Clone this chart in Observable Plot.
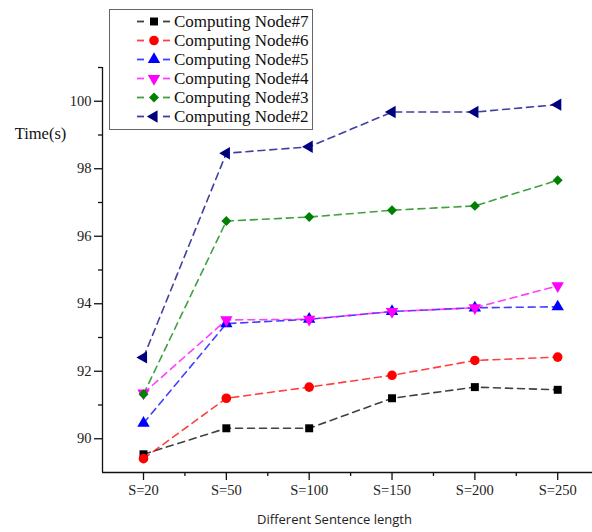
<!DOCTYPE html>
<html><head><meta charset="utf-8">
<script src="https://cdn.jsdelivr.net/npm/d3@7"></script>
<script src="https://cdn.jsdelivr.net/npm/@observablehq/plot@0.6"></script>
<style>
body{margin:0;background:#fff;}
#wrap{position:relative;width:592px;height:532px;}
#wrap svg text{font-family:"Liberation Serif","Times New Roman",serif;}
#wrap svg text.xtitle{font-family:"Open Sans",sans-serif;}
#legend{position:absolute;left:109px;top:9px;width:204px;height:121px;border:1px solid #666;background:#fff;box-sizing:border-box;font-family:"Liberation Serif","Times New Roman",serif;font-size:17px;color:#111;padding-top:2px;}
.row{display:flex;align-items:center;height:19px;white-space:nowrap;}
.row svg{flex:none;}
</style></head><body><div id="wrap"></div>
<script>
const categories = ["S=20", "S=50", "S=100", "S=150", "S=200", "S=250"];
const seriesNames = ["Computing Node#7", "Computing Node#6", "Computing Node#5", "Computing Node#4", "Computing Node#3", "Computing Node#2"];
const node7 = [89.54, 90.31, 90.31, 91.20, 91.53, 91.45];
const node6 = [89.41, 91.20, 91.53, 91.88, 92.32, 92.42];
const node5 = [90.46, 93.41, 93.54, 93.77, 93.88, 93.91];
const node4 = [91.35, 93.52, 93.54, 93.77, 93.88, 94.53];
const node3 = [91.32, 96.45, 96.57, 96.77, 96.90, 97.66];
const node2 = [92.41, 98.46, 98.65, 99.68, 99.68, 99.90];
const seriesValues = [node7, node6, node5, node4, node3, node2];
const colors = ["#000000", "#ff0000", "#0000ff", "#ff00ff", "#008000", "#000080"];
const yMajorTicks = [90, 92, 94, 96, 98, 100];
const yMinorTicks = [91, 93, 95, 97, 99, 101];
const xMajorTicks = [0, 1, 2, 3, 4, 5];
const xMinorTicks = [0.5, 1.5, 2.5, 3.5, 4.5];
const yLabel = "Time(s)";
const xLabel = "Different Sentence length";

const serif = "'Liberation Serif', 'Times New Roman', serif";
const sqrt3 = Math.sqrt(3);
const triDown = {draw(ctx, size) {
  const y = -Math.sqrt(size / (sqrt3 * 3));
  ctx.moveTo(0, -y * 2); ctx.lineTo(-sqrt3 * y, y); ctx.lineTo(sqrt3 * y, y); ctx.closePath();
}};
const triLeft = {draw(ctx, size) {
  const y = -Math.sqrt(size / (sqrt3 * 3));
  ctx.moveTo(y * 2, 0); ctx.lineTo(-y, -sqrt3 * y); ctx.lineTo(-y, sqrt3 * y); ctx.closePath();
}};
const symbols = [d3.symbolSquare, d3.symbolCircle, d3.symbolTriangle, triDown, d3.symbolDiamond2, triLeft];
const radii = [4.5, 4.8, 4.6, 4.6, 4.5, 4.6];

const rows = [];
seriesValues.forEach((vals, s) => vals.forEach((v, i) => rows.push({s, series: seriesNames[s], i, cat: categories[i], value: v})));

const xDomain = [-0.495, 5.42];
const yDomain = [89, 101];

const marks = [];
seriesNames.forEach((name, s) => {
  const d = rows.filter(r => r.s === s);
  marks.push(Plot.line(d, {x: "i", y: "value", stroke: colors[s], strokeWidth: 1.6, strokeDasharray: "7,5", strokeOpacity: 0.75}));
  marks.push(Plot.dot(d, {x: "i", y: "value", symbol: symbols[s], r: radii[s], fill: colors[s], stroke: "none"}));
});

const chart = Plot.plot({
  width: 592, height: 532,
  marginLeft: 102, marginRight: 0, marginTop: 67, marginBottom: 60,
  style: {fontFamily: serif, fontSize: "14.5px", color: "#222", background: "#fff"},
  x: {domain: xDomain},
  y: {domain: yDomain},
  marks: [
    ...marks,
    Plot.ruleY([yDomain[0]], {stroke: "#111", strokeWidth: 1.3}),
    Plot.ruleX([xDomain[0]], {stroke: "#111", strokeWidth: 1.3}),
    Plot.axisX(xMajorTicks, {tickSize: 8, tickPadding: 4, tickFormat: i => categories[i], label: null, strokeWidth: 1.3, stroke: "#111", fontFamily: serif, fontSize: 14.5}),
    Plot.axisX(xMinorTicks, {tickSize: 4, tickFormat: () => "", label: null, strokeWidth: 1.3, stroke: "#111"}),
    Plot.axisY(yMajorTicks, {tickSize: 8, tickPadding: 3, label: null, strokeWidth: 1.3, stroke: "#111", fontFamily: serif, fontSize: 14.5}),
    Plot.axisY(yMinorTicks, {tickSize: 4, tickFormat: () => "", label: null, strokeWidth: 1.3, stroke: "#111"}),
    Plot.text([yLabel], {frameAnchor: "top-left", dx: -62, dy: 66, textAnchor: "middle", lineAnchor: "middle", fontSize: 16.5, fontFamily: serif, fill: "#111"}),
    Plot.text([xLabel], {frameAnchor: "bottom", dx: -13, dy: 47, textAnchor: "middle", lineAnchor: "middle", fontSize: 13, fontFamily: "'Open Sans', sans-serif", fill: "#222", className: "xtitle"})
  ]
});

const wrap = document.getElementById("wrap");
wrap.appendChild(chart);
// mark the x title so its sans font is kept
chart.querySelectorAll("text").forEach(t => { if (t.textContent === xLabel) t.setAttribute("class", "xtitle"); });

const legend = document.createElement("div");
legend.id = "legend";
seriesNames.forEach((name, s) => {
  const row = document.createElement("div");
  row.className = "row";
  const ns = "http://www.w3.org/2000/svg";
  const svg = document.createElementNS(ns, "svg");
  svg.setAttribute("width", 64); svg.setAttribute("height", 19);
  [[27, 34], [53, 60]].forEach(([a, b]) => {
    const l = document.createElementNS(ns, "line");
    l.setAttribute("x1", a); l.setAttribute("x2", b); l.setAttribute("y1", 9.5); l.setAttribute("y2", 9.5);
    l.setAttribute("stroke", colors[s]); l.setAttribute("stroke-width", 1.8); l.setAttribute("stroke-opacity", 0.75);
    svg.appendChild(l);
  });
  const p = document.createElementNS(ns, "path");
  p.setAttribute("d", d3.symbol(symbols[s], Math.PI * radii[s] * radii[s])());
  p.setAttribute("transform", "translate(44,9.5)");
  p.setAttribute("fill", colors[s]);
  svg.appendChild(p);
  row.appendChild(svg);
  const t = document.createElement("span");
  t.textContent = name;
  row.appendChild(t);
  legend.appendChild(row);
});
wrap.appendChild(legend);
</script>
</body></html>
